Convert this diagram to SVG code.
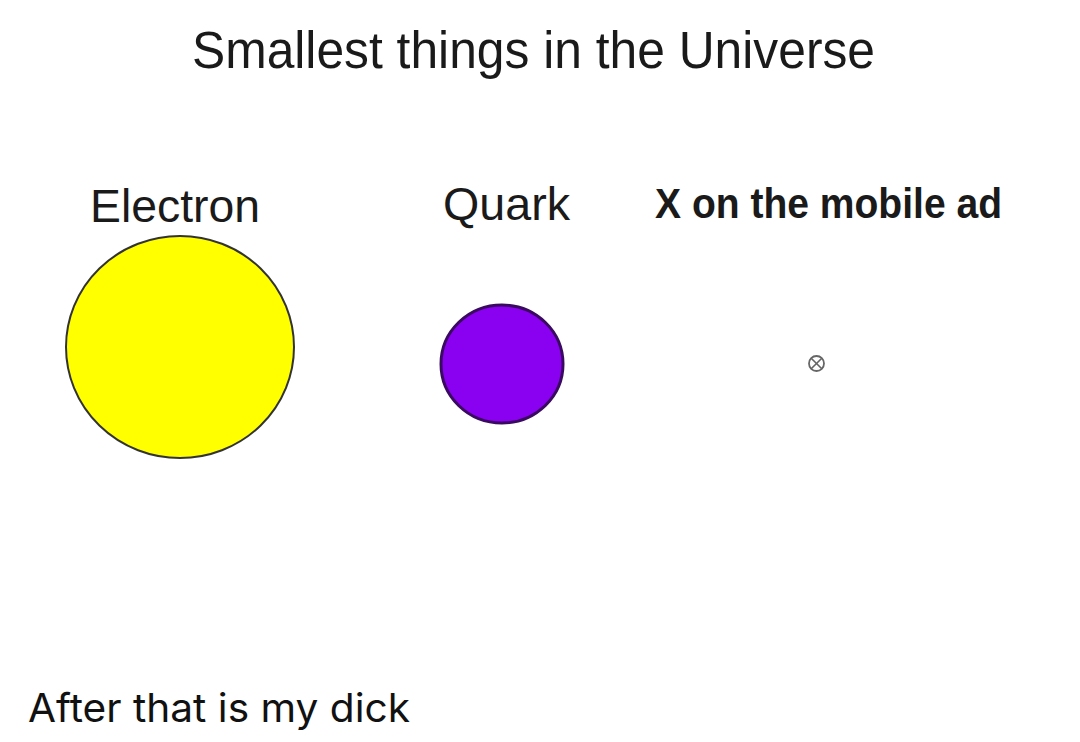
<svg xmlns="http://www.w3.org/2000/svg" width="1080" height="742" viewBox="0 0 1080 742">
<style>
.t{font-family:"Liberation Sans",Arial,sans-serif;fill:#1a1a1a}
.cap{font-family:Inter,"Noto Sans",sans-serif;fill:#111}
</style>
<rect width="1080" height="742" fill="#fff"/>
<text class="t" x="192" y="68" font-size="51" textLength="683" lengthAdjust="spacingAndGlyphs">Smallest things in the Universe</text>
<g id="electron">
<text class="t" x="90" y="222" font-size="47" textLength="170" lengthAdjust="spacingAndGlyphs">Electron</text>
<ellipse cx="180" cy="347" rx="114" ry="111" fill="#ffff00" stroke="#333" stroke-width="2"/>
</g>
<g id="quark">
<text class="t" x="443" y="220" font-size="47" textLength="127" lengthAdjust="spacingAndGlyphs">Quark</text>
<ellipse cx="502" cy="364" rx="61" ry="59" fill="#8a00f0" stroke="#3a0a60" stroke-width="3"/>
</g>
<g id="x-ad">
<text class="t" x="655" y="218" font-size="42" font-weight="bold" textLength="347" lengthAdjust="spacingAndGlyphs">X on the mobile ad</text>
<circle cx="816.5" cy="363.5" r="7.5" fill="none" stroke="#666" stroke-width="1.8"/>
<path d="M811.2 358.2 L821.8 368.8 M821.8 358.2 L811.2 368.8" stroke="#666" stroke-width="1.6"/>
</g>
<g id="connectors"/>
<text class="cap" x="28" y="722" font-size="39" textLength="382" lengthAdjust="spacingAndGlyphs">After that is my dick</text>
</svg>
